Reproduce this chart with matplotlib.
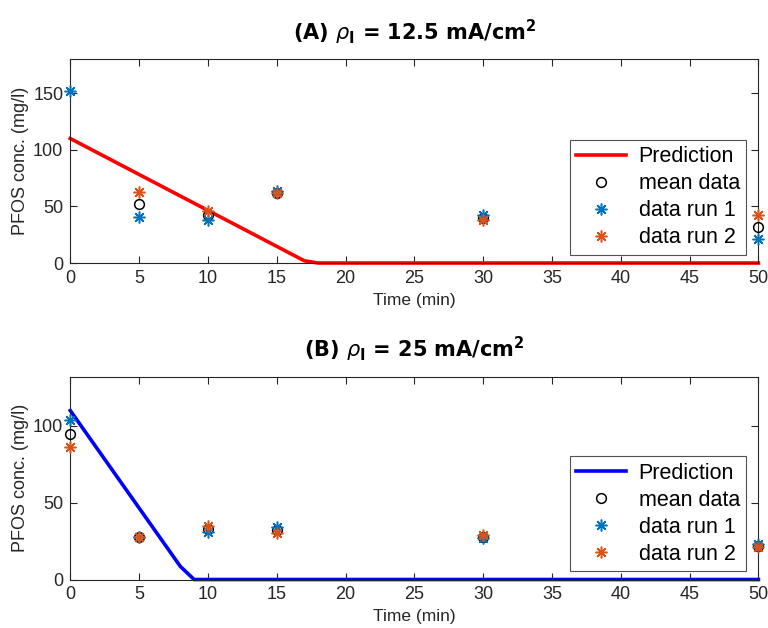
import numpy as np
import matplotlib
matplotlib.use("Agg")
import matplotlib.pyplot as plt

plt.rcParams['font.family'] = ['Liberation Sans', 'DejaVu Sans']
plt.rcParams['mathtext.fontset'] = 'dejavusans'

# data
t_data = [0, 5, 10, 15, 30, 50]

# (A) 12.5 mA/cm2
pred_t_a = [0, 17, 18, 50]
pred_y_a = [110, 2, 0, 0]
mean_a = [np.nan, 52, 42, 62, 40, 32]
run1_a = [152, 41, 38, 64, 42, 21]
run2_a = [np.nan, 63, 46, 62, 38, 42]

# (B) 25 mA/cm2
pred_t_b = [0, 8, 9, 50]
pred_y_b = [110, 8.5, 0, 0]
mean_b = [95, 28, 33, 32, 28, 22]
run1_b = [104, 28, 31, 34, 27, 23]
run2_b = [86, 28, 35, 30, 29, 21]

titles = [r'(A) $\rho_\mathbf{I}$ = 12.5 mA/cm$^\mathbf{2}$',
          r'(B) $\rho_\mathbf{I}$ = 25 mA/cm$^\mathbf{2}$']

mat_blue = '#0072BD'
mat_orange = '#D95319'
axcol = '#262626'

fig = plt.figure(figsize=(7.68, 6.28), dpi=100)
ax_a = fig.add_axes([0.0915, 0.5812, 0.896, 0.3244])
ax_b = fig.add_axes([0.0915, 0.0772, 0.896, 0.3229])

panels = [
    (ax_a, pred_t_a, pred_y_a, mean_a, run1_a, run2_a, 'red', 180, [0, 50, 100, 150]),
    (ax_b, pred_t_b, pred_y_b, mean_b, run1_b, run2_b, 'blue', 132, [0, 50, 100]),
]

star = (8, 2, 0)

for i, (ax, pt, py, mn, r1, r2, lc, ytop, yt) in enumerate(panels):
    ax.plot(pt, py, color=lc, linewidth=2.6, label='Prediction', zorder=2)
    ax.plot(t_data, mn, linestyle='none', marker='o', markersize=7,
            markerfacecolor='none', markeredgecolor='black', markeredgewidth=1.1,
            label='mean data', zorder=3)
    ax.plot(t_data, r1, linestyle='none', marker=star, markersize=8.5,
            markeredgecolor=mat_blue, markeredgewidth=1.1, label='data run 1', zorder=4)
    ax.plot(t_data, r2, linestyle='none', marker=star, markersize=8.5,
            markeredgecolor=mat_orange, markeredgewidth=1.1, label='data run 2', zorder=5)

    ax.set_xlim(0, 50)
    ax.set_ylim(0, ytop)
    ax.set_xticks(np.arange(0, 51, 5))
    ax.set_yticks(yt)
    ax.tick_params(direction='in', top=True, right=True, labelsize=13,
                   colors=axcol, length=5, width=0.8, pad=5)
    for sp in ax.spines.values():
        sp.set_color(axcol)
        sp.set_linewidth(0.8)
    for ln in ax.get_lines():
        ln.set_clip_on(False)

    ax.set_xlabel('Time (min)', fontsize=12.5, color=axcol, labelpad=4)
    ax.set_ylabel('PFOS conc. (mg/l)', fontsize=13, color=axcol, labelpad=3)
    ax.set_title(titles[i], fontsize=15, fontweight='bold', family='DejaVu Sans', pad=14)

    leg = ax.legend(loc='lower right', bbox_to_anchor=(0.9825, 0.04), fontsize=15.5,
                    frameon=True, fancybox=False, edgecolor=axcol, handlelength=2.3,
                    labelspacing=0.28, borderpad=0.3, handletextpad=0.6,
                    borderaxespad=0)
    leg.get_frame().set_linewidth(0.8)

fig.savefig('out.png', dpi=100)
